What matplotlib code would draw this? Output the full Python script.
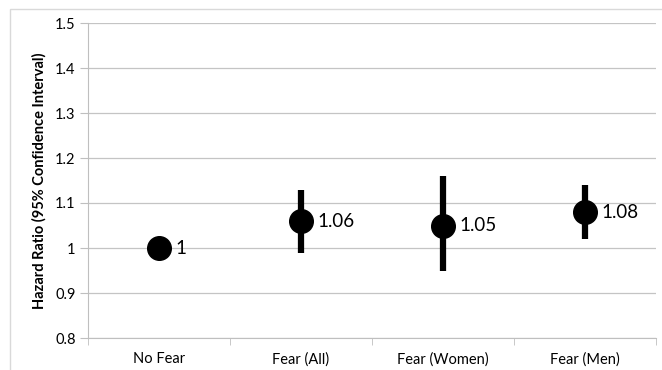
import matplotlib.pyplot as plt
from matplotlib.patches import Rectangle

# Data
categories = ['No Fear', 'Fear (All)', 'Fear (Women)', 'Fear (Men)']
hazard_ratio = [1.00, 1.06, 1.05, 1.08]
ci_low = [1.00, 0.99, 0.95, 1.02]
ci_high = [1.00, 1.13, 1.16, 1.14]
point_labels = ['1', '1.06', '1.05', '1.08']
y_ticks = [0.8, 0.9, 1.0, 1.1, 1.2, 1.3, 1.4, 1.5]
y_tick_labels = ['0.8', '0.9', '1', '1.1', '1.2', '1.3', '1.4', '1.5']

plt.rcParams['font.family'] = ['Lato', 'DejaVu Sans']

fig = plt.figure(figsize=(6.62, 3.70), dpi=100)
ax = fig.add_axes([88 / 662, 1 - 338 / 370, (656 - 88) / 662, (338 - 23) / 370])

# outer chart border (left/top visible in reference)
fig.patches.append(Rectangle((10 / 662, -0.05), 1.2, 1 - 9 / 370 + 0.05,
                             transform=fig.transFigure, fill=False,
                             edgecolor='#d9d9d9', linewidth=1))

x = list(range(len(categories)))
for xi, hr, lo, hi, lab in zip(x, hazard_ratio, ci_low, ci_high, point_labels):
    if hi > lo:
        ax.plot([xi, xi], [lo, hi], color='black', linewidth=4.5,
                solid_capstyle='butt', zorder=3)
    ax.plot(xi, hr, 'o', color='black', markersize=17, zorder=4)
    ax.annotate(lab, (xi, hr), xytext=(12, 0), textcoords='offset points',
                va='center', ha='left', fontsize=13.5, color='black')

ax.set_xlim(-0.5, len(categories) - 0.5)
ax.set_ylim(0.8, 1.5)
ax.set_yticks(y_ticks)
ax.set_yticklabels(y_tick_labels)
ax.set_xticks(x)
ax.set_xticklabels(categories)
ax.set_xticks([i - 0.5 for i in range(len(categories) + 1)], minor=True)
ax.tick_params(axis='x', which='major', length=0, pad=10, labelsize=10.5)
ax.tick_params(axis='x', which='minor', length=5, color='#bfbfbf', direction='out')
ax.tick_params(axis='y', length=6, color='#bfbfbf', labelsize=10.5, pad=3)

ax.grid(axis='y', color='#c4c4c4', linewidth=0.9)
ax.set_axisbelow(True)
for side in ['top', 'right']:
    ax.spines[side].set_visible(False)
ax.spines['left'].set_color('#bfbfbf')
ax.spines['bottom'].set_color('#bfbfbf')

ax.set_ylabel('Hazard Ratio (95% Confidence Interval)', fontsize=10.5,
              fontweight='bold', labelpad=6)

fig.savefig('out.png', dpi=100)
